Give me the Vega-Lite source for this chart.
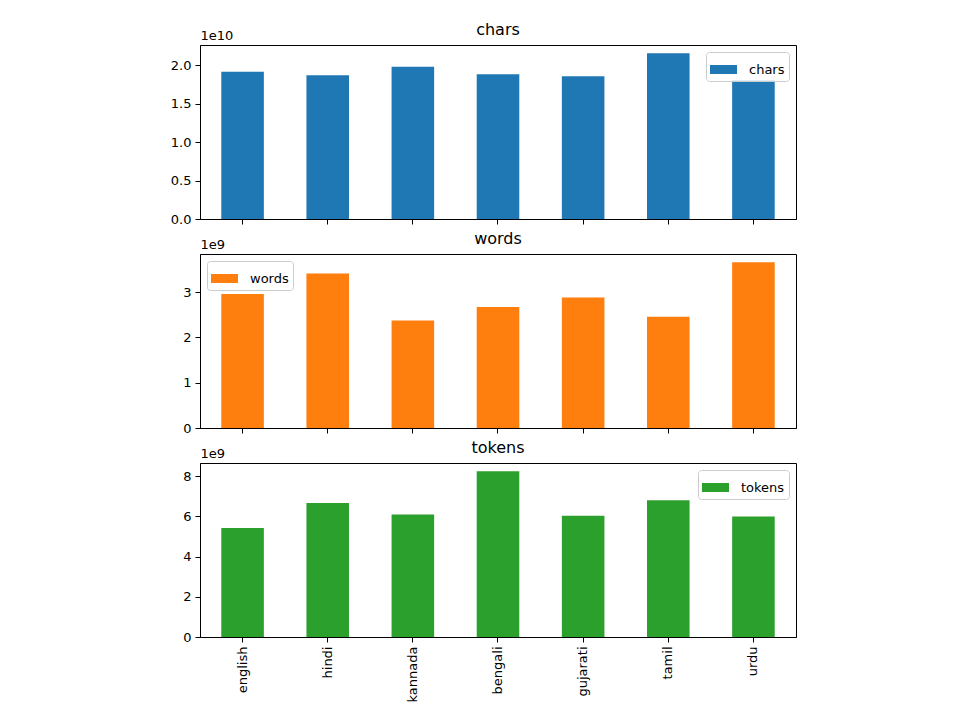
{
  "$schema": "https://vega.github.io/schema/vega-lite/v6.json",
  "padding": {"left": 169, "top": 21, "right": 5, "bottom": 5},
  "spacing": 3,
  "datasets": {
    "stats": [
      {"lang": "english", "metric": "chars", "value": 19140000000},
      {"lang": "hindi", "metric": "chars", "value": 18660000000},
      {"lang": "kannada", "metric": "chars", "value": 19790000000},
      {"lang": "bengali", "metric": "chars", "value": 18790000000},
      {"lang": "gujarati", "metric": "chars", "value": 18530000000},
      {"lang": "tamil", "metric": "chars", "value": 21520000000},
      {"lang": "urdu", "metric": "chars", "value": 18010000000},
      {"lang": "english", "metric": "words", "value": 2960000000},
      {"lang": "hindi", "metric": "words", "value": 3410000000},
      {"lang": "kannada", "metric": "words", "value": 2374000000},
      {"lang": "bengali", "metric": "words", "value": 2668000000},
      {"lang": "gujarati", "metric": "words", "value": 2879000000},
      {"lang": "tamil", "metric": "words", "value": 2455000000},
      {"lang": "urdu", "metric": "words", "value": 3657000000},
      {"lang": "english", "metric": "tokens", "value": 5420000000},
      {"lang": "hindi", "metric": "tokens", "value": 6670000000},
      {"lang": "kannada", "metric": "tokens", "value": 6100000000},
      {"lang": "bengali", "metric": "tokens", "value": 8250000000},
      {"lang": "gujarati", "metric": "tokens", "value": 6040000000},
      {"lang": "tamil", "metric": "tokens", "value": 6800000000},
      {"lang": "urdu", "metric": "tokens", "value": 6000000000}
    ]
  },
  "data": {"name": "stats"},
  "resolve": {"scale": {"y": "independent", "color": "independent"}, "legend": {"color": "independent"}},
  "vconcat": [
    {
      "title": "chars",
      "width": 596,
      "height": 174,
      "transform": [{"filter": "datum.metric === 'chars'"}],
      "mark": {"type": "bar"},
      "encoding": {
        "x": {"field": "lang", "type": "nominal", "sort": ["english","hindi","kannada","bengali","gujarati","tamil","urdu"],
              "scale": {"paddingInner": 0.5, "paddingOuter": 0.25},
              "axis": {"labels": false, "title": null}},
        "y": {"field": "value", "type": "quantitative", "scale": {"domain": [0, 22600000000], "nice": false, "zero": true},
              "axis": {"values": [0, 5000000000, 10000000000, 15000000000, 20000000000],
                       "labelExpr": "format(datum.value / 1e10, '.1f')",
                       "title": "1e10", "titleAngle": 0, "titleX": 0, "titleY": -3, "titleAlign": "left", "titleBaseline": "bottom"}},
        "color": {"field": "metric", "type": "nominal", "scale": {"domain": ["chars"], "range": ["#1f77b4"]},
                  "legend": {"orient": "top-right", "title": null}}
      }
    },
    {
      "title": "words",
      "width": 596,
      "height": 174,
      "transform": [{"filter": "datum.metric === 'words'"}],
      "mark": {"type": "bar"},
      "encoding": {
        "x": {"field": "lang", "type": "nominal", "sort": ["english","hindi","kannada","bengali","gujarati","tamil","urdu"],
              "scale": {"paddingInner": 0.5, "paddingOuter": 0.25},
              "axis": {"labels": false, "title": null}},
        "y": {"field": "value", "type": "quantitative", "scale": {"domain": [0, 3840000000], "nice": false, "zero": true},
              "axis": {"values": [0, 1000000000, 2000000000, 3000000000],
                       "labelExpr": "format(datum.value / 1e9, 'd')",
                       "title": "1e9", "titleAngle": 0, "titleX": 0, "titleY": -3, "titleAlign": "left", "titleBaseline": "bottom"}},
        "color": {"field": "metric", "type": "nominal", "scale": {"domain": ["words"], "range": ["#ff7f0e"]},
                  "legend": {"orient": "top-left", "title": null}}
      }
    },
    {
      "title": "tokens",
      "width": 596,
      "height": 174,
      "transform": [{"filter": "datum.metric === 'tokens'"}],
      "mark": {"type": "bar"},
      "encoding": {
        "x": {"field": "lang", "type": "nominal", "sort": ["english","hindi","kannada","bengali","gujarati","tamil","urdu"],
              "scale": {"paddingInner": 0.5, "paddingOuter": 0.25},
              "axis": {"labelAngle": -90, "title": null}},
        "y": {"field": "value", "type": "quantitative", "scale": {"domain": [0, 8660000000], "nice": false, "zero": true},
              "axis": {"values": [0, 2000000000, 4000000000, 6000000000, 8000000000],
                       "labelExpr": "format(datum.value / 1e9, 'd')",
                       "title": "1e9", "titleAngle": 0, "titleX": 0, "titleY": -3, "titleAlign": "left", "titleBaseline": "bottom"}},
        "color": {"field": "metric", "type": "nominal", "scale": {"domain": ["tokens"], "range": ["#2ca02c"]},
                  "legend": {"orient": "top-right", "title": null}}
      }
    }
  ],
  "config": {
    "font": "DejaVu Sans",
    "view": {"stroke": "black", "strokeWidth": 1},
    "axis": {"domainColor": "black", "tickColor": "black", "labelColor": "black", "labelFontSize": 13, "tickSize": 5, "grid": false, "labelPadding": 4, "titleFontWeight": "normal", "titleFontSize": 13, "titleColor": "black", "labelFont": "DejaVu Sans", "titleFont": "DejaVu Sans"},
    "title": {"fontSize": 16, "fontWeight": "normal", "frame": "group", "offset": -9, "color": "black", "font": "DejaVu Sans"},
    "legend": {"offset": 7, "padding": 4, "strokeColor": "#cccccc", "fillColor": "rgba(255,255,255,0.8)", "cornerRadius": 3,
               "symbolType": "M-1,-0.333L1,-0.333L1,0.333L-1,0.333Z", "symbolSize": 729, "symbolStrokeWidth": 0,
               "labelFontSize": 13, "labelColor": "black", "labelFont": "DejaVu Sans", "labelOffset": 12}
  }
}
